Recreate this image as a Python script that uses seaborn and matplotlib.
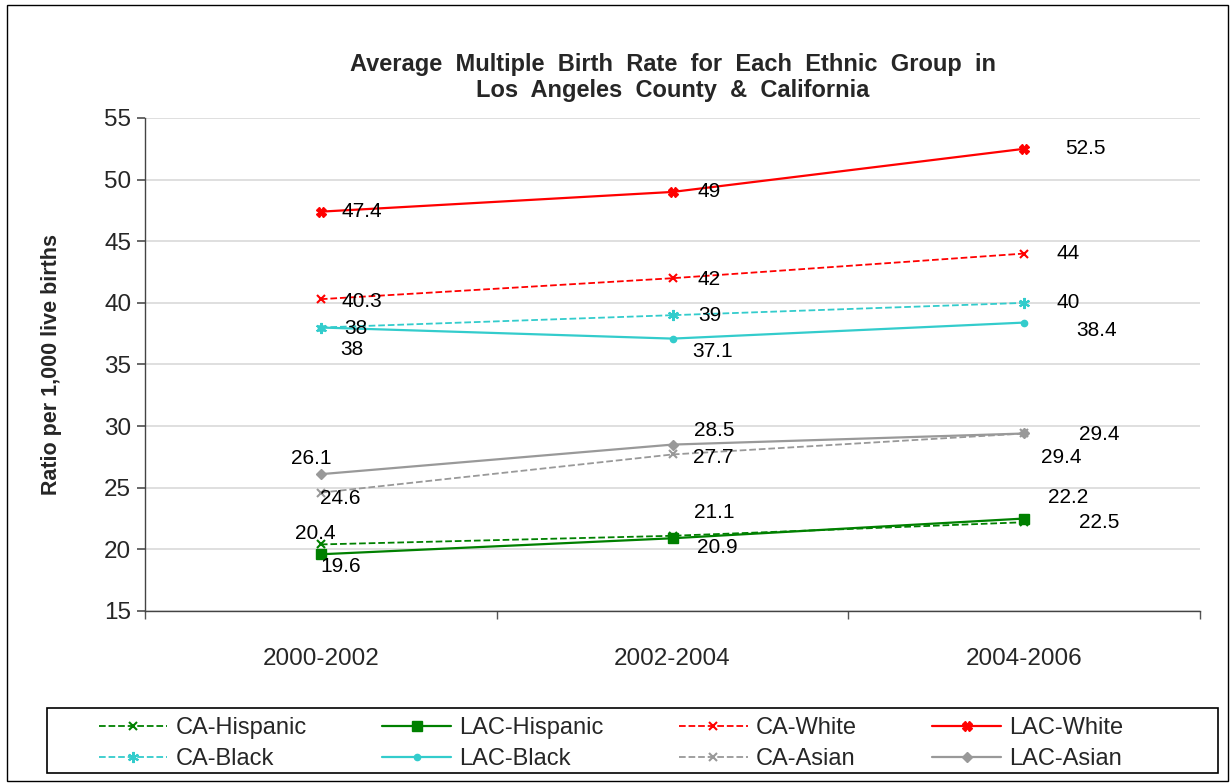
import pandas as pd
import matplotlib
matplotlib.use("Agg")
import matplotlib.pyplot as plt
import seaborn as sns
from matplotlib.patches import Rectangle

periods = ["2000-2002", "2002-2004", "2004-2006"]

ca_hispanic = [20.4, 21.1, 22.2]
lac_hispanic = [19.6, 20.9, 22.5]
ca_white = [40.3, 42, 44]
lac_white = [47.4, 49, 52.5]
ca_black = [38, 39, 40]
lac_black = [38, 37.1, 38.4]
ca_asian = [24.6, 27.7, 29.4]
lac_asian = [26.1, 28.5, 29.4]

sns.set_theme(style="white")
plt.rcParams['font.family'] = ['Liberation Sans', 'DejaVu Sans']

green, red, cyan, gray = "#008000", "#FF0000", "#33CCCC", "#999999"
star = (6, 2, 0)

# name, values, color, dashed, marker, size, label offsets (points) per point
series = [
    ("CA-Hispanic", ca_hispanic, green, True, "x", 6,
     [(-4, 8), (30, 16.5), (32, 17.5)]),
    ("LAC-Hispanic", lac_hispanic, green, False, "s", 7,
     [(14.5, -9), (32, -7), (54, -2.5)]),
    ("CA-White", ca_white, red, True, "x", 6,
     [(29.5, -2), (26.6, -1), (32, 0)]),
    ("LAC-White", lac_white, red, False, "X", 7,
     [(29.5, 0), (26.6, 0), (44, 0)]),
    ("CA-Black", ca_black, cyan, True, star, 8,
     [(25, -1), (26.6, 0), (32, 0)]),
    ("LAC-Black", lac_black, cyan, False, "o", 4.5,
     [(22, -16), (29, -9.5), (52, -6)]),
    ("CA-Asian", ca_asian, gray, True, "x", 6,
     [(14, -4), (29, -2.5), (27, -17.5)]),
    ("LAC-Asian", lac_asian, gray, False, "D", 5,
     [(-7, 11), (30, 10.5), (54, -1)]),
]

fig = plt.figure(figsize=(12.3, 7.84), dpi=100)
fig.patches.append(Rectangle((0.006, 0.004), 0.992, 0.99, transform=fig.transFigure,
                             fill=False, edgecolor="black", linewidth=1.0))
# legend box, drawn separately so the entries can sit inside with wide margins
fig.patches.append(Rectangle((47 / 1230, 11 / 784), 1171 / 1230, 65 / 784,
                             transform=fig.transFigure, fill=False,
                             edgecolor="black", linewidth=1.2))
ax = fig.add_axes([0.1179, 0.2207, 0.8577, 0.6288])

handles = {}
for name, vals, col, dashed, mk, ms, offs in series:
    df = pd.DataFrame({"period": periods, "value": vals})
    sns.lineplot(data=df, x="period", y="value", ax=ax, color=col, marker=mk,
                 markersize=ms, markeredgecolor=col,
                 markeredgewidth=1.5 if mk in ("x", star) else 1,
                 linestyle="--" if dashed else "-",
                 linewidth=1.3 if dashed else 1.6, label=name, sort=False)
    handles[name] = ax.get_lines()[-1]
    for i, v in enumerate(vals):
        ax.annotate(f"{v:g}", (i, v), xytext=offs[i], textcoords="offset points",
                    ha="center", va="center", fontsize=15, color="black")

ax.set_xlim(-0.5, 2.5)
ax.set_ylim(15, 55)
ax.set_yticks(range(15, 56, 5))
ax.yaxis.grid(True, color="#D9D9D9", linewidth=1.2)
ax.set_axisbelow(True)
ax.tick_params(axis="y", labelsize=17.5, length=6, left=True, color="#555555", pad=4)
ax.set_xticks(range(3))
ax.set_xticklabels(periods)
ax.set_xticks([-0.5, 0.5, 1.5, 2.5], minor=True)
ax.tick_params(axis="x", which="major", length=0, labelsize=17.5, pad=27)
ax.tick_params(axis="x", which="minor", length=6, bottom=True, color="#555555")
ax.set_xlabel("")
ax.set_ylabel("Ratio per 1,000 live births", fontsize=15.5, fontweight="bold", labelpad=30)
for s in ["top", "right"]:
    ax.spines[s].set_visible(False)
for s in ["left", "bottom"]:
    ax.spines[s].set_color("#444444")
    ax.spines[s].set_linewidth(1.0)

ax.set_title("Average  Multiple  Birth  Rate  for  Each  Ethnic  Group  in\nLos  Angeles  County  &  California",
             fontsize=17, fontweight="bold", pad=15, linespacing=1.15)

if ax.get_legend():
    ax.get_legend().remove()
order = ["CA-Hispanic", "CA-Black", "LAC-Hispanic", "LAC-Black",
         "CA-White", "CA-Asian", "LAC-White", "LAC-Asian"]
leg = fig.legend([handles[n] for n in order], order, loc="upper left",
                 bbox_to_anchor=(80 / 1230, 1 - 698 / 784), ncol=4, fontsize=17,
                 frameon=False, handlelength=2.9, handletextpad=0.35,
                 columnspacing=3.2, labelspacing=0.4, borderpad=0.3)

fig.savefig("out.png", dpi=100)
